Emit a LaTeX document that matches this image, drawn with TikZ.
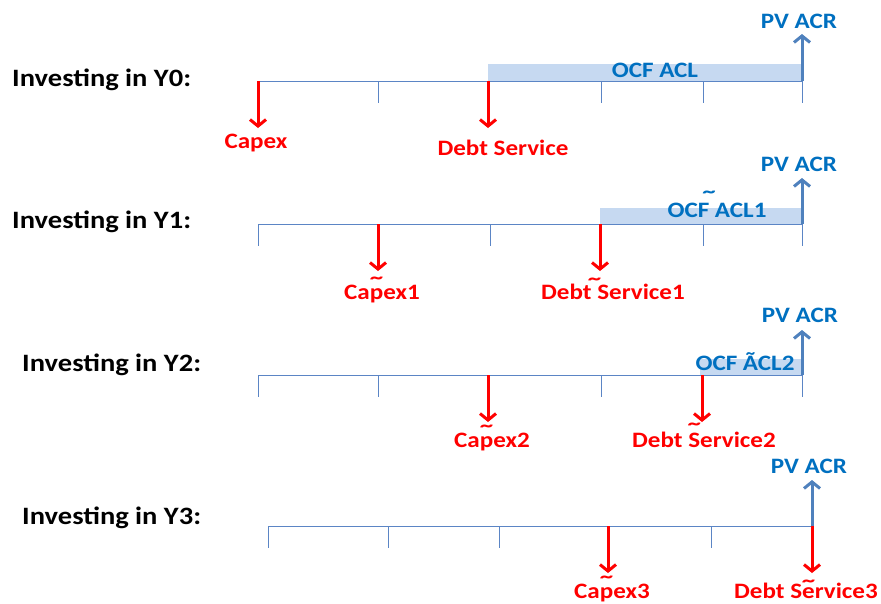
\documentclass[tikz,border=0pt]{standalone}
\usepackage{fontspec}
\setmainfont{Carlito}[FakeStretch=1.14]
\usetikzlibrary{arrows.meta}
\definecolor{tred}{HTML}{FF0000}
\definecolor{tblue}{HTML}{0070C0}
\definecolor{abl}{HTML}{4F81BD}
\definecolor{barf}{HTML}{C6D9F1}
\definecolor{lineb}{HTML}{5B85C5}
% tilde placed over #3, raised by #2, shifted horizontally by #1
\newcommand\hitilde[3][0pt]{\setbox0\hbox{#3}\rlap{\kern\dimexpr\wd0/2+#1\relax\hbox to 0pt{\hss\raisebox{#2}[0pt][0pt]{\scalebox{1.6}[1.1]{\char"02DC}}\hss}}#3}
\begin{document}
\begin{tikzpicture}[x=1pt,y=-1pt,
  hdr/.style={font=\fontsize{25}{25}\selectfont\bfseries, anchor=west, inner sep=0pt, text height=16pt, text depth=0pt},
  lbl/.style={font=\fontsize{22}{22}\selectfont\bfseries, inner sep=0pt, text height=14pt, text depth=0pt},
  redlbl/.style={lbl, text=tred},
  bluelbl/.style={lbl, text=tblue},
  tl/.style={draw=lineb, line width=1pt},
  tick/.style={draw=lineb, line width=1pt},
  outflow/.style={draw=tred, line width=3pt, -{Straight Barb[length=6.5pt,width=16pt,line width=3pt]}},
  inflow/.style={draw=abl, line width=3pt, -{Straight Barb[length=6.5pt,width=16pt,line width=3pt]}},
  bar/.style={fill=barf, draw=none}]
\useasboundingbox[fill=white] (0,0) rectangle (881,603);

% ---------- Row Y0 ----------
\node[hdr] (h0) at (12,78) {Investing in Y0:};
\fill[bar] (488,64) rectangle (802,81);
\coordinate (a0) at (258,81);
\coordinate (b0) at (802,81);
\coordinate (d0) at (488,81);
\draw[tl] (a0) -- (b0);
\foreach \x in {258,378,601,703,802} \draw[tick] (\x,81) -- (\x,103);
\node[bluelbl] (o0) at (655,70) {OCF ACL};
\coordinate (ce0) at (258,128);
\coordinate (de0) at (488,128);
\coordinate (pe0) at (802,34);
\draw[outflow] (a0) -- (ce0);
\draw[outflow] (d0) -- (de0);
\draw[inflow] (b0) -- (pe0);
\node[redlbl] (c0) at (256,141) {Capex};
\node[redlbl] (s0) at (503,148) {Debt Service};
\node[bluelbl] (p0) at (799,21) {PV ACR};

% ---------- Row Y1 ----------
\node[hdr] (h1) at (12,220) {Investing in Y1:};
\fill[bar] (600,208) rectangle (802,224);
\coordinate (a1) at (258,224);
\coordinate (b1) at (802,224);
\coordinate (c1s) at (378,224);
\coordinate (d1) at (600,224);
\draw[tl] (a1) -- (b1);
\foreach \x in {258,490,703,802} \draw[tick] (\x,224) -- (\x,246);
\node[bluelbl] (o1) at (717,210) {OCF\hitilde[-3pt]{10pt}{\ }ACL1};
\coordinate (ce1) at (378,271);
\coordinate (de1) at (600,271);
\coordinate (pe1) at (802,178);
\draw[outflow] (c1s) -- (ce1);
\draw[outflow] (d1) -- (de1);
\draw[inflow] (b1) -- (pe1);
\node[redlbl] (c1) at (382,292) {Ca\hitilde{6pt}{p}ex1};
\node[redlbl] (s1) at (613,292) {Debt\hitilde{5pt}{\ }Service1};
\node[bluelbl] (p1) at (799,164) {PV ACR};

% ---------- Row Y2 ----------
\node[hdr] (h2) at (22,363) {Investing in Y2:};
\fill[bar] (700,359) rectangle (802,375);
\coordinate (a2) at (258,375);
\coordinate (b2) at (802,375);
\coordinate (c2s) at (488,375);
\coordinate (d2) at (702,375);
\draw[tl] (a2) -- (b2);
\foreach \x in {258,378,601,802} \draw[tick] (\x,375) -- (\x,397);
\node[bluelbl] (o2) at (745,363) {OCF \~{A}CL2};
\coordinate (ce2) at (488,422);
\coordinate (de2) at (702,422);
\coordinate (pe2) at (802,330);
\draw[outflow] (c2s) -- (ce2);
\draw[outflow] (d2) -- (de2);
\draw[inflow] (b2) -- (pe2);
\node[redlbl] (c2) at (492,440) {Ca\hitilde{6pt}{p}ex2};
\node[redlbl] (s2) at (704,440) {Debt \hitilde{8pt}{S}ervice2};
\node[bluelbl] (p2) at (800,315) {PV ACR};

% ---------- Row Y3 ----------
\node[hdr] (h3) at (22,516) {Investing in Y3:};
\coordinate (a3) at (268,526);
\coordinate (b3) at (812,526);
\coordinate (c3s) at (608,526);
\draw[tl] (a3) -- (b3);
\foreach \x in {268,388,499,711} \draw[tick] (\x,526) -- (\x,548);
\coordinate (ce3) at (608,573);
\coordinate (de3) at (812,573);
\coordinate (pe3) at (812,480);
\draw[outflow] (c3s) -- (ce3);
\draw[outflow] (b3) -- (de3);
\draw[inflow] (b3) -- (pe3);
\node[redlbl] (c3) at (612,591) {Ca\hitilde{6pt}{p}ex3};
\node[redlbl] (s3) at (806,591) {Debt S\hitilde{2pt}{e}rvice3};
\node[bluelbl] (p3) at (809,466) {PV ACR};
\end{tikzpicture}
\end{document}
